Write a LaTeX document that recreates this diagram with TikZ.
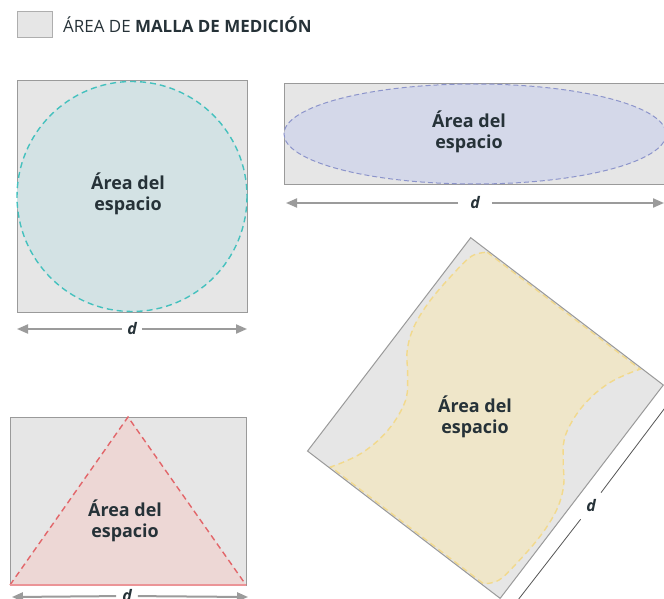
\documentclass[tikz,border=0pt]{standalone}
\usepackage{fontspec}
\setmainfont{Open Sans}
\usetikzlibrary{arrows.meta}
\definecolor{meshfill}{HTML}{E6E6E6}
\definecolor{meshline}{HTML}{9A9A9A}
\definecolor{textdark}{HTML}{263238}
\definecolor{arrowgray}{HTML}{9B9B9B}
\definecolor{tealfill}{HTML}{D3E2E4}
\definecolor{tealline}{HTML}{45C1BE}
\definecolor{lavfill}{HTML}{D4D8E9}
\definecolor{lavline}{HTML}{8C94CB}
\definecolor{pinkfill}{HTML}{EDD7D5}
\definecolor{pinkline}{HTML}{E2666A}
\definecolor{yelfill}{HTML}{EFE6C9}
\definecolor{yelline}{HTML}{F2D98C}
\definecolor{dimline}{HTML}{555555}
\tikzset{
  meshrect/.style={fill=meshfill, draw=meshline, line width=1bp},
  spacetext/.style={font=\fontsize{18}{21}\selectfont\bfseries, text=textdark, align=center, inner sep=0pt},
  dlabel/.style={font=\fontsize{16}{16}\selectfont\bfseries\itshape, text=textdark, inner xsep=5bp, inner ysep=2bp},
  dimarrow/.style={draw=arrowgray, line width=2bp, -{Triangle[length=11bp,width=9bp]}},
  thindim/.style={draw=dimline, line width=0.8bp},
}
\begin{document}
\begin{tikzpicture}[x=1bp,y=-1bp]
\clip (0,0) rectangle (664,599);
\fill[white] (0,0) rectangle (664,599);

% legend
\node[fill=meshfill, draw=meshline!80, line width=1bp, minimum width=35bp, minimum height=26bp, inner sep=0pt] (legbox) at (34.5,25) {};
\node[anchor=west, inner sep=0pt, font=\fontsize{17}{17}\selectfont, text=textdark] (legtext) at (63,25) {ÁREA DE \textbf{MALLA DE MEDICIÓN}};

% circle panel
\draw[meshrect] (17,81) rectangle (247,312);
\draw[fill=tealfill, draw=tealline, line width=1.4bp, dash pattern=on 6bp off 4bp] (132,196.5) circle [radius=115];
\node[spacetext] (t1) at (128,194) {Área del\\espacio};
\node[dlabel] (d1) at (132,329) {d};
\coordinate (d1l) at (17,329);
\coordinate (d1r) at (247,329);
\draw[dimarrow] (d1) -- (d1l);
\draw[dimarrow] (d1) -- (d1r);

% ellipse panel
\draw[meshrect] (284,84) rectangle (666,184);
\draw[fill=lavfill, draw=lavline, line width=1bp, dash pattern=on 5bp off 3bp] (475,134) ellipse [x radius=191, y radius=50];
\node[spacetext] (t2) at (469,132) {Área del\\espacio};
\node[dlabel, inner xsep=12bp] (d2) at (475,203) {d};
\coordinate (d2l) at (286,203);
\coordinate (d2r) at (664,203);
\draw[dimarrow] (d2) -- (d2l);
\draw[dimarrow] (d2) -- (d2r);

% triangle panel
\draw[meshrect] (10,417) rectangle (246,585);
\fill[pinkfill] (10,585) -- (128,417) -- (246,585) -- cycle;
\draw[pinkline, line width=1.4bp, dash pattern=on 6bp off 4bp] (10,585) -- (128,417) -- (246,585);
\draw[pinkline!70, line width=1.2bp] (10,585) -- (246,585);
\node[spacetext] (t3) at (125,521) {Área del\\espacio};
\node[dlabel, inner xsep=6bp] (d3) at (127,596) {d};
\coordinate (d3l) at (12,597);
\coordinate (d3r) at (248,597);
\draw[dimarrow] (d3) -- (d3l);
\draw[dimarrow] (d3) -- (d3r);

% rotated panel
\begin{scope}[shift={(470.7,237.7)}]
\begin{scope}[x={(0.7943bp,-0.6075bp)}, y={(-0.6075bp,-0.7943bp)}]
  \fill[meshfill] (0,0) -- (242.5,0) -- (242.5,268.6) -- (0,268.6) -- cycle;
  \path[fill=yelfill, draw=yelline, line width=1.4bp, dash pattern=on 6bp off 4bp]
    (22,1.5) -- (214.5,1.5)
    -- plot[smooth, tension=0.6] coordinates {(214.5,1.5) (207.5,12.6) (198.5,30.6) (192.5,53.6) (191.5,78.6) (196.5,102.6) (209.5,121.6) (224.5,140.6) (233.5,163.6) (236.5,193.6) (234.5,228.6) (230.5,254.6) (220.5,267.1)}
    -- (28,267.1)
    -- plot[smooth, tension=0.6] coordinates {(28,267.1) (35,256) (44,238) (50,215) (51,190) (46,166) (33,147) (18,128) (9,105) (6,75) (8,40) (12,14) (22,1.5)}
    -- cycle;
  \draw[draw=meshline, line width=1bp] (0,0) -- (242.5,0) -- (242.5,268.6) -- (0,268.6) -- cycle;
  \node[dlabel, inner xsep=7bp, inner ysep=7bp] (d4) at (258.5,140) {d};
  \coordinate (d4t) at (257.5,-10);
  \coordinate (d4b) at (257.5,280);
  \draw[thindim] (d4) -- (d4t);
  \draw[thindim] (d4) -- (d4b);
\end{scope}
\end{scope}
\node[spacetext] (t4) at (475,417) {Área del\\espacio};
\end{tikzpicture}
\end{document}
